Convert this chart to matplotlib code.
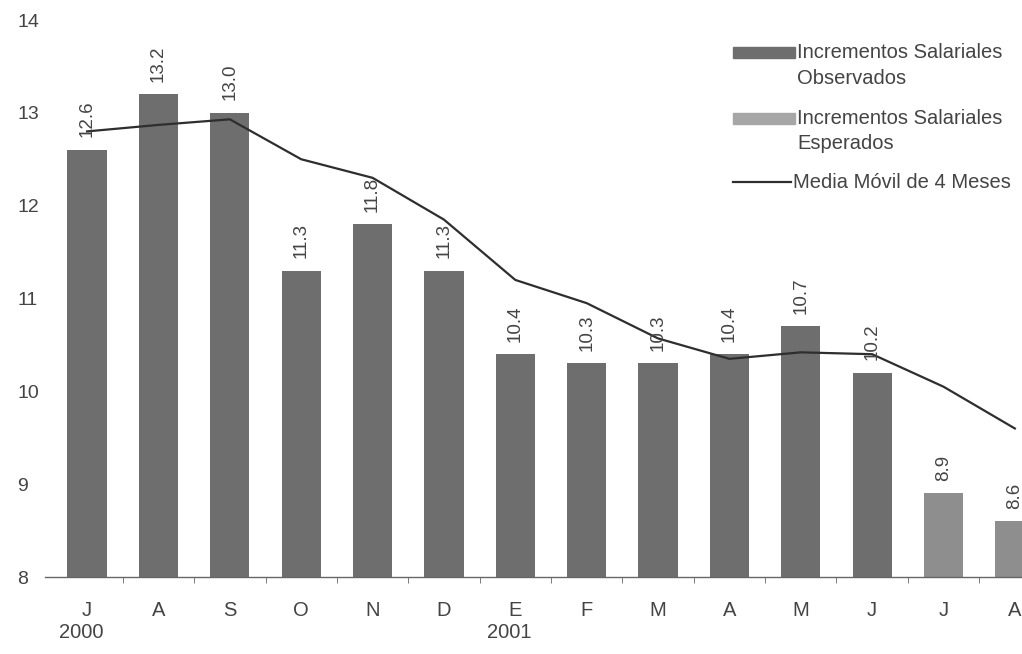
import numpy as np
import matplotlib
matplotlib.use("Agg")
import matplotlib.pyplot as plt
from matplotlib.patches import Rectangle
from matplotlib.lines import Line2D

plt.rcParams['font.family'] = ['Liberation Sans', 'DejaVu Sans']

months = ['J', 'A', 'S', 'O', 'N', 'D', 'E', 'F', 'M', 'A', 'M', 'J', 'J', 'A']
years = {0: '2000', 6: '2001'}
observed = [12.6, 13.2, 13.0, 11.3, 11.8, 11.3, 10.4, 10.3, 10.3, 10.4, 10.7, 10.2, None, None]
expected = [None] * 12 + [8.9, 8.6]
moving_avg = [12.8, 12.87, 12.93, 12.5, 12.3, 11.85, 11.2, 10.95, 10.57, 10.35, 10.42, 10.4, 10.05, 9.6]

W, H = 1022, 654
fig = plt.figure(figsize=(W / 100, H / 100), dpi=100)
ax = fig.add_axes([45 / W, (H - 577) / H, 1 - 45 / W, (577 - 20) / H])

x = np.arange(len(months))
base = 8
obs_x = [i for i, v in enumerate(observed) if v is not None]
obs_v = [v for v in observed if v is not None]
exp_x = [i for i, v in enumerate(expected) if v is not None]
exp_v = [v for v in expected if v is not None]

ax.bar(obs_x, np.array(obs_v) - base, bottom=base, width=0.55, color='#6e6e6e', zorder=2)
ax.bar(exp_x, np.array(exp_v) - base, bottom=base, width=0.55, color='#8e8e8e', zorder=2)
ax.plot(x, moving_avg, color='#2e2e2e', lw=1.6, zorder=3)

for xi, v in zip(obs_x + exp_x, obs_v + exp_v):
    ax.annotate('%.1f' % v, (xi, v), xytext=(0, 9), textcoords='offset points',
                rotation=90, ha='center', va='bottom', fontsize=13.5, color='#444444', zorder=4)

ax.set_ylim(8, 14)
ax.set_xlim(-0.59, 13.1)
ax.set_yticks(range(8, 15))
ax.set_xticks(x)
ax.set_xticklabels(months, fontsize=14.5, color='#444444')
ax.set_xticks(x[:-1] + 0.5, minor=True)
ax.tick_params(axis='x', which='major', length=0, pad=17)
ax.tick_params(axis='x', which='minor', length=4, color='#666666', direction='out')
ax.tick_params(axis='y', length=0, pad=20, labelsize=14, labelcolor='#444444')
for t in ax.get_yticklabels():
    t.set_horizontalalignment('left')

for s in ['top', 'right', 'left']:
    ax.spines[s].set_visible(False)
ax.spines['bottom'].set_color('#666666')
ax.spines['bottom'].set_linewidth(1.0)

for xi, yr in years.items():
    ax.text(xi - 0.08, -0.1, yr, transform=ax.get_xaxis_transform(), ha='center', va='center',
            fontsize=14.5, color='#444444')

# legend drawn by hand to keep swatches aligned with the first text line
def fx(px):
    return px / W

def fy(py):
    return 1 - py / H

fig.patches.append(Rectangle((fx(733), fy(58)), fx(62), 11 / H, transform=fig.transFigure,
                             color='#6e6e6e', figure=fig))
fig.patches.append(Rectangle((fx(733), fy(124)), fx(62), 11 / H, transform=fig.transFigure,
                             color='#a6a6a6', figure=fig))
fig.lines.append(Line2D([fx(733), fx(791)], [fy(182), fy(182)], transform=fig.transFigure,
                        color='#2e2e2e', lw=1.6, figure=fig))
leg_kw = dict(fontsize=14.5, color='#444444', va='center', ha='left')
fig.text(fx(797), fy(53), 'Incrementos Salariales', **leg_kw)
fig.text(fx(797), fy(78), 'Observados', **leg_kw)
fig.text(fx(797), fy(118), 'Incrementos Salariales', **leg_kw)
fig.text(fx(797), fy(143), 'Esperados', **leg_kw)
fig.text(fx(793), fy(182), 'Media Móvil de 4 Meses', **leg_kw)

fig.savefig('out.png', dpi=100)
